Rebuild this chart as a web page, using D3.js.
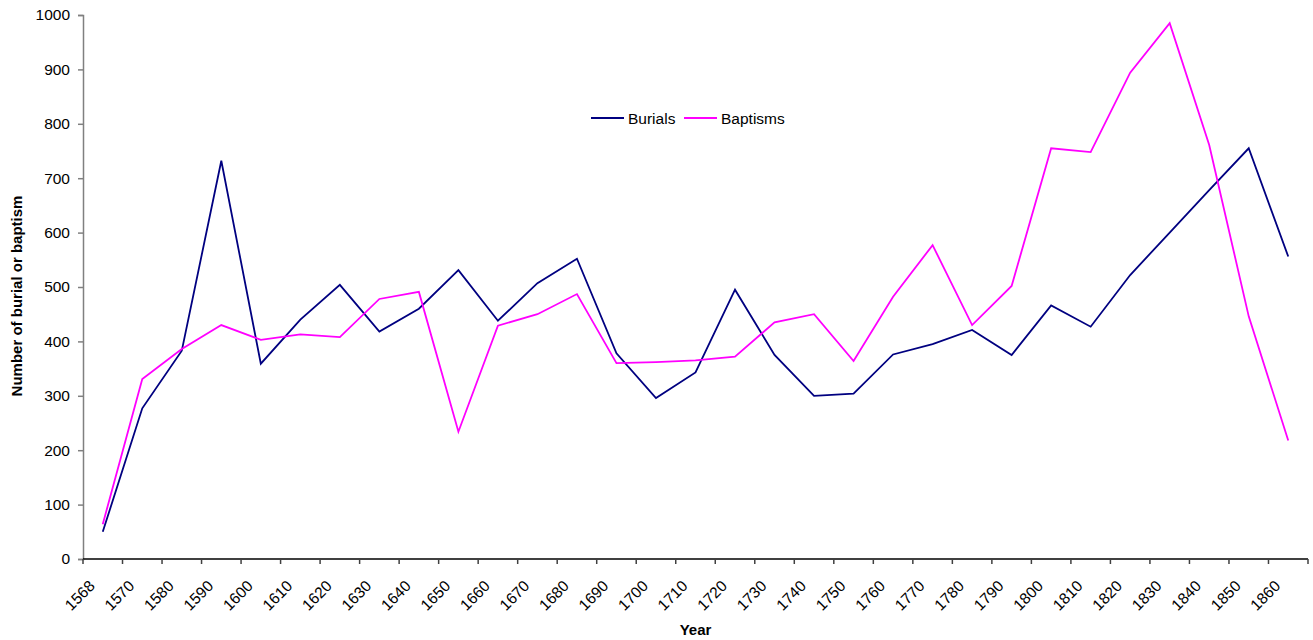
<!DOCTYPE html>
<html>
<head>
<meta charset="utf-8">
<script src="https://cdn.jsdelivr.net/npm/d3@7"></script>
<style>
  html, body { margin: 0; padding: 0; background: #fff; }
  svg { display: block; font-family: "Liberation Sans", Arial, sans-serif; }
</style>
</head>
<body>
<svg id="chart" width="1313" height="640"></svg>
<script>
// Ten-year groups of parish register entries
const years = ["1568", "1570", "1580", "1590", "1600", "1610", "1620", "1630", "1640", "1650",
  "1660", "1670", "1680", "1690", "1700", "1710", "1720", "1730", "1740", "1750",
  "1760", "1770", "1780", "1790", "1800", "1810", "1820", "1830", "1840", "1850", "1860"];

const burials = [50, 277, 383, 732, 359, 440, 504, 418, 460, 531,
  438, 507, 552, 378, 296, 343, 495, 375, 300, 304,
  376, 395, 421, 375, 466, 427, 522, 600, 678, 755, 556];

const baptisms = [64, 331, 386, 430, 403, 413, 408, 478, 491, 234,
  429, 450, 487, 360, 362, 365, 372, 435, 450, 364,
  482, 577, 430, 502, 755, 748, 894, 985, 761, 446, 218];

const yTicks = [0, 100, 200, 300, 400, 500, 600, 700, 800, 900, 1000];

const seriesList = [
  { name: "Burials", values: burials, color: "#000080" },
  { name: "Baptisms", values: baptisms, color: "#FF00FF" }
];

const svg = d3.select("#chart");
const plotLeft = 83, plotRight = 1308, plotTop = 15, plotBottom = 559;

const x = d3.scaleBand().domain(years).range([plotLeft, plotRight]).padding(0);
const y = d3.scaleLinear().domain([0, 1000]).range([plotBottom, plotTop]);
const bw = x.bandwidth();

// Value axis
const yAxis = svg.append("g")
  .attr("transform", `translate(${plotLeft},0)`)
  .call(d3.axisLeft(y).tickValues(yTicks).tickSize(5).tickPadding(8).tickFormat(d3.format("d")));
yAxis.select(".domain").attr("stroke", "#808080").attr("stroke-width", 1.5);
yAxis.selectAll(".tick line").attr("stroke", "#808080").attr("stroke-width", 1.5);
yAxis.selectAll(".tick text")
  .attr("fill", "#000")
  .style("font-size", "15.5px")
  .style("font-family", "'Liberation Sans', Arial, sans-serif");

// Category axis: ticks sit on the band boundaries
const xAxis = svg.append("g").attr("class", "x-axis");
const edges = years.map(d => x(d)).concat([x(years[years.length - 1]) + bw]);
xAxis.append("line")
  .attr("x1", plotLeft).attr("x2", plotRight)
  .attr("y1", plotBottom).attr("y2", plotBottom)
  .attr("stroke", "#000").attr("stroke-width", 1.5);
xAxis.selectAll("line.tick")
  .data(edges)
  .enter().append("line")
  .attr("class", "tick")
  .attr("x1", d => d).attr("x2", d => d)
  .attr("y1", plotBottom).attr("y2", plotBottom + 5)
  .attr("stroke", "#404040").attr("stroke-width", 1.5);
xAxis.selectAll("text")
  .data(years)
  .enter().append("text")
  .attr("transform", d => `translate(${x(d) + bw / 2 - 7},${plotBottom + 28}) rotate(-45)`)
  .attr("text-anchor", "end")
  .style("font-size", "15.5px")
  .attr("fill", "#000")
  .text(d => d);

// Series lines
const line = d3.line()
  .x((d, i) => x(years[i]) + bw / 2)
  .y(d => y(d));

svg.selectAll("path.series")
  .data(seriesList)
  .enter().append("path")
  .attr("class", "series")
  .attr("fill", "none")
  .attr("stroke", d => d.color)
  .attr("stroke-width", 1.8)
  .attr("stroke-linejoin", "miter")
  .attr("d", d => line(d.values));

// Axis titles
svg.append("text")
  .attr("transform", `translate(${(plotLeft + plotRight) / 2},635)`)
  .attr("text-anchor", "middle")
  .style("font-size", "15px")
  .style("font-weight", "bold")
  .text("Year");

svg.append("text")
  .attr("transform", "translate(22,296) rotate(-90)")
  .attr("text-anchor", "middle")
  .style("font-size", "15px")
  .style("font-weight", "bold")
  .text("Number of burial or baptism");

// Legend
const legendPos = [{ lx: 591, tx: 628 }, { lx: 684, tx: 721 }];
const legend = svg.append("g").attr("class", "legend");
seriesList.forEach((s, i) => {
  const p = legendPos[i];
  legend.append("line")
    .attr("x1", p.lx).attr("x2", p.lx + 33)
    .attr("y1", 118).attr("y2", 118)
    .attr("stroke", s.color).attr("stroke-width", 1.8);
  legend.append("text")
    .attr("x", p.tx).attr("y", 123.5)
    .style("font-size", "15.5px")
    .attr("fill", "#000")
    .text(s.name);
});
</script>
</body>
</html>
